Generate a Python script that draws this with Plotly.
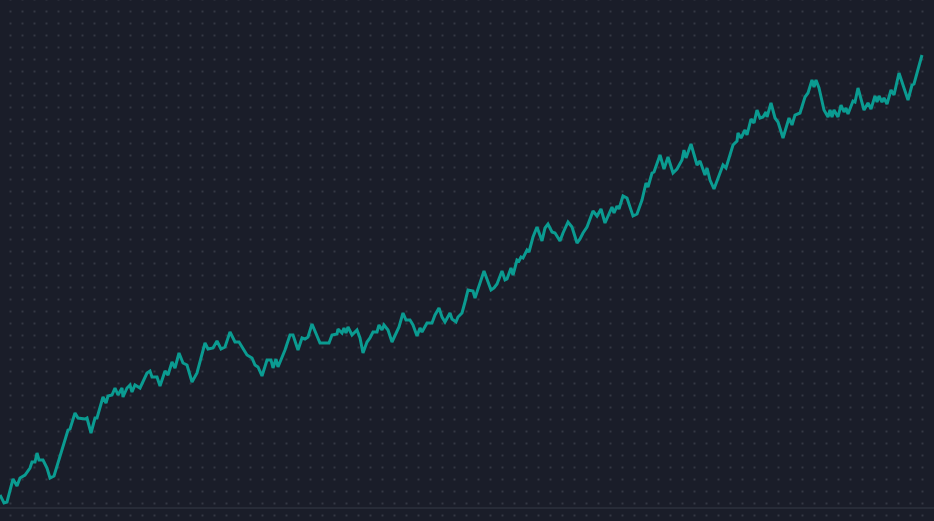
import numpy as np
import plotly.graph_objects as go

# Data (day index, value)
days = [0, 4, 7, 13, 17, 20, 25, 30, 32, 35, 37, 39, 43, 47, 50, 54, 68, 70, 75, 78,
        85, 87, 91, 95, 97, 102, 103, 106, 108, 112, 115,
        118, 122, 123, 127, 130, 132, 135, 140, 147, 150, 152, 157, 160, 165, 168, 172,
        175, 179, 183, 187, 192, 197, 205, 208, 213, 217, 221, 225, 230,
        235, 239, 243, 247, 252, 255, 258, 262, 267, 271, 273, 276, 278, 285, 290, 293,
        298, 302, 305, 308, 312, 316, 320, 329, 332, 337, 338, 342, 344, 346, 348,
        352, 357, 360, 363, 367, 370, 373, 377, 379, 382, 384, 388, 392, 397, 399, 403,
        406, 410, 413, 417, 420, 422, 427, 432, 435, 439, 442, 445, 450, 452, 456, 458,
        462, 465,
        468, 473, 475, 484, 491, 494, 497, 502, 505, 507, 511, 513, 517, 519, 521, 523,
        527, 529, 533, 537, 542, 545, 548, 552, 555, 560, 563, 568, 572, 577, 580, 583,
        587, 593, 597, 601, 605, 612, 614, 617, 619, 623, 627, 633, 637, 642, 646, 648,
        652, 654, 660, 664, 668, 673, 677, 682, 684, 686, 691, 697, 700,
        705, 707, 710, 714, 723, 726, 733, 737, 738, 741, 745, 747, 751, 754, 757, 760,
        763, 766, 767, 771, 775, 778, 783, 789, 792, 795, 800, 805, 808, 812, 814, 816,
        819,
        824, 828, 830, 832, 834, 838, 841, 844, 846, 848, 853, 855, 858, 864, 868, 871,
        875, 877, 879, 882, 884, 887, 891, 894, 899, 908, 912, 914, 922]

values = [12, 4, 5, 28, 21, 29, 32, 39, 45, 45, 54, 47, 47, 39, 29, 31, 77, 78, 94, 89,
          88, 89, 74, 89, 89, 107, 110, 104, 111, 112, 119,
          112, 119, 110, 119, 122, 115, 122, 119, 134, 136, 130, 130, 121, 136, 132, 145,
          139, 154, 144, 142, 125, 134, 164, 158, 159, 166, 158, 160, 175,
          165, 165, 159, 152, 149, 142, 140, 131, 147, 147, 139, 148, 140, 157, 172, 172,
          157, 169, 168, 170, 183, 174, 164, 164, 172, 173, 178, 174, 179, 174, 180,
          172, 177, 169, 154, 165, 169, 175, 175, 182, 177, 182, 177, 165, 177, 180, 194,
          187, 187, 182, 171, 179, 175, 184, 184, 192, 199, 190, 185, 194, 188, 185, 190,
          194, 205,
          217, 216, 209, 236, 217, 219, 223, 236, 227, 228, 239, 232, 247, 246, 250, 249,
          257, 255, 270, 280, 266, 279, 283, 275, 274, 266, 274, 285, 280, 264, 268, 274,
          280, 296, 291, 298, 284, 300, 294, 301, 298, 311, 309, 291, 293, 307, 324, 320,
          334, 335, 352, 338, 350, 334, 338, 347, 357, 349, 363, 342, 346,
          332, 339, 327, 318, 342, 339, 362, 366, 374, 369, 377, 372, 388, 384, 397, 389,
          390, 395, 390, 404, 389, 385, 369, 389, 382, 392, 394, 410, 414, 427, 420, 427,
          419,
          397, 390, 397, 390, 397, 390, 402, 395, 399, 393, 406, 405, 419, 397, 404, 398,
          411, 405, 411, 405, 409, 403, 417, 412, 434, 407, 422, 423, 452]

W, H = 934, 521
BG = "#1a1d29"
X_RANGE = [0, W]
Y_RANGE = [-14, 507]  # value 507 at top, -14 at bottom

fig = go.Figure()

# decorative dot grid (background pattern)
gx = np.arange(10.5, W, 12)
gy_pix = np.arange(-0.5, H, 12)
GX, GY = np.meshgrid(gx, gy_pix)
fig.add_trace(go.Scatter(
    x=GX.ravel(), y=507 - GY.ravel(), mode="markers",
    marker=dict(symbol="square", size=2, color="#343844", line=dict(width=0)),
    hoverinfo="skip", showlegend=False,
))

fig.add_trace(go.Scatter(
    x=days, y=values, mode="lines",
    line=dict(color="#0b9b91", width=3),
    showlegend=False,
))

fig.add_shape(type="line", xref="paper", x0=0, x1=1, yref="y", y0=-1, y1=-1,
              line=dict(color="#272b37", width=2), layer="below")

fig.update_layout(
    width=W, height=H,
    margin=dict(l=0, r=0, t=0, b=0),
    paper_bgcolor=BG, plot_bgcolor=BG,
    xaxis=dict(range=X_RANGE, visible=False, fixedrange=True),
    yaxis=dict(range=Y_RANGE, visible=False, fixedrange=True),
    showlegend=False,
)

post = ("document.body.style.margin='0';document.body.style.padding='0';"
        "document.body.style.overflow='hidden';"
        "document.documentElement.style.background='%s';"
        "document.body.style.background='%s';") % (BG, BG)

fig.write_html("out.html", post_script=post, config={"displayModeBar": False})
